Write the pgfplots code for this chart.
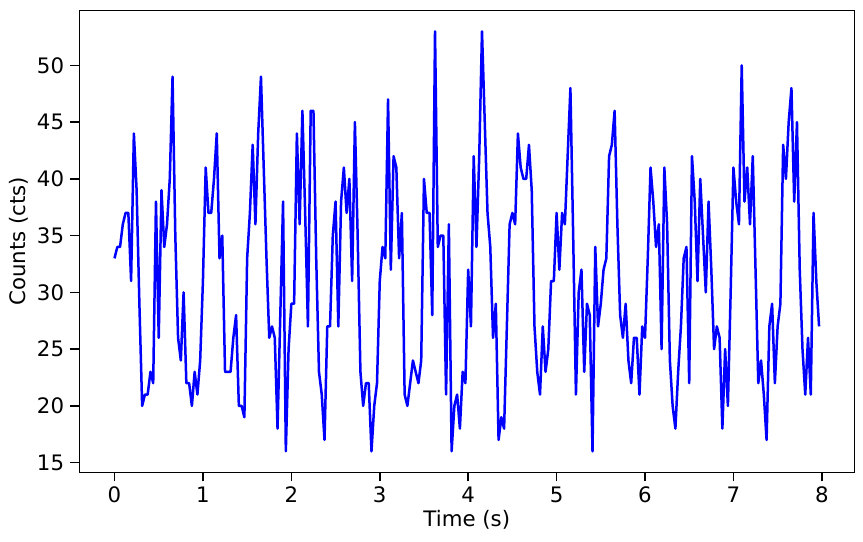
\documentclass[border=0pt]{standalone}
\usepackage{fontspec}
\setmainfont{DejaVu Sans}
\usepackage{pgfplots}
\usepackage{pgfplotstable}
\pgfplotsset{compat=1.18}

% Binned light curve: 256 bins of 1/32 s
\pgfplotstableread{
t c
0 33
0.03125 34
0.0625 34
0.09375 36
0.125 37
0.15625 37
0.1875 31
0.21875 44
0.25 39
0.28125 29
0.3125 20
0.34375 21
0.375 21
0.40625 23
0.4375 22
0.46875 38
0.5 26
0.53125 39
0.5625 34
0.59375 36
0.625 40
0.65625 49
0.6875 35
0.71875 26
0.75 24
0.78125 30
0.8125 22
0.84375 22
0.875 20
0.90625 23
0.9375 21
0.96875 24
1 31
1.03125 41
1.0625 37
1.09375 37
1.125 40
1.15625 44
1.1875 33
1.21875 35
1.25 23
1.28125 23
1.3125 23
1.34375 26
1.375 28
1.40625 20
1.4375 20
1.46875 19
1.5 33
1.53125 37
1.5625 43
1.59375 36
1.625 44
1.65625 49
1.6875 41
1.71875 33
1.75 26
1.78125 27
1.8125 26
1.84375 18
1.875 28
1.90625 38
1.9375 16
1.96875 25
2 29
2.03125 29
2.0625 44
2.09375 36
2.125 46
2.15625 37
2.1875 27
2.21875 46
2.25 46
2.28125 33
2.3125 23
2.34375 21
2.375 17
2.40625 27
2.4375 27
2.46875 35
2.5 38
2.53125 27
2.5625 38
2.59375 41
2.625 37
2.65625 40
2.6875 31
2.71875 45
2.75 35
2.78125 23
2.8125 20
2.84375 22
2.875 22
2.90625 16
2.9375 20
2.96875 22
3 31
3.03125 34
3.0625 33
3.09375 47
3.125 32
3.15625 42
3.1875 41
3.21875 33
3.25 37
3.28125 21
3.3125 20
3.34375 22
3.375 24
3.40625 23
3.4375 22
3.46875 24
3.5 40
3.53125 37
3.5625 37
3.59375 28
3.625 53
3.65625 34
3.6875 35
3.71875 35
3.75 21
3.78125 36
3.8125 16
3.84375 20
3.875 21
3.90625 18
3.9375 23
3.96875 22
4 32
4.03125 27
4.0625 42
4.09375 34
4.125 42
4.15625 53
4.1875 45
4.21875 37
4.25 34
4.28125 26
4.3125 29
4.34375 17
4.375 19
4.40625 18
4.4375 27
4.46875 36
4.5 37
4.53125 36
4.5625 44
4.59375 41
4.625 40
4.65625 40
4.6875 43
4.71875 39
4.75 27
4.78125 23
4.8125 21
4.84375 27
4.875 23
4.90625 25
4.9375 31
4.96875 31
5 37
5.03125 32
5.0625 37
5.09375 36
5.125 42
5.15625 48
5.1875 35
5.21875 21
5.25 30
5.28125 32
5.3125 23
5.34375 29
5.375 28
5.40625 16
5.4375 34
5.46875 27
5.5 29
5.53125 32
5.5625 33
5.59375 42
5.625 43
5.65625 46
5.6875 36
5.71875 28
5.75 26
5.78125 29
5.8125 24
5.84375 22
5.875 26
5.90625 26
5.9375 21
5.96875 27
6 26
6.03125 33
6.0625 41
6.09375 38
6.125 34
6.15625 36
6.1875 25
6.21875 41
6.25 36
6.28125 24
6.3125 20
6.34375 18
6.375 23
6.40625 27
6.4375 33
6.46875 34
6.5 22
6.53125 42
6.5625 38
6.59375 31
6.625 40
6.65625 35
6.6875 30
6.71875 38
6.75 32
6.78125 25
6.8125 27
6.84375 26
6.875 18
6.90625 25
6.9375 20
6.96875 30
7 41
7.03125 38
7.0625 36
7.09375 50
7.125 38
7.15625 41
7.1875 36
7.21875 42
7.25 32
7.28125 22
7.3125 24
7.34375 21
7.375 17
7.40625 27
7.4375 29
7.46875 22
7.5 27
7.53125 29
7.5625 43
7.59375 40
7.625 45
7.65625 48
7.6875 38
7.71875 45
7.75 32
7.78125 25
7.8125 21
7.84375 26
7.875 21
7.90625 37
7.9375 31
7.96875 27
}\lightcurve

\definecolor{curveblue}{RGB}{0,0,255}

\begin{document}
\begin{tikzpicture}
\begin{axis}[
  scale only axis,
  width=775bp, height=462bp,
  xmin=-0.3984, xmax=8.3672,
  ymin=14.15, ymax=54.85,
  xtick={0,1,2,3,4,5,6,7,8},
  ytick={15,20,25,30,35,40,45,50},
  tick align=outside,
  tick pos=left,
  major tick length=9bp,
  every tick/.style={black, line width=1.6bp},
  axis line style={black, line width=1bp},
  /pgf/number format/assume math mode=true,
  ticklabel style={font=\fontsize{21.3bp}{25bp}\selectfont},
  xticklabel style={inner sep=0pt, yshift=-5bp},
  yticklabel style={inner sep=0pt, xshift=-6bp},
  xlabel={Time (s)},
  ylabel={Counts (cts)},
  label style={font=\fontsize{21.3bp}{25bp}\selectfont},
  xlabel style={at={(rel axis cs:0.5,0)}, anchor=base, yshift=-54.4bp, inner sep=0pt},
  ylabel style={at={(rel axis cs:0,0.5)}, rotate=0, anchor=base, yshift=54bp, inner sep=0pt},
]
\addplot[curveblue, line width=2.5bp, line join=round, mark=none] table[x=t, y=c] {\lightcurve};
\coordinate (bl) at (rel axis cs:0,0);
\end{axis}
\pgfresetboundingbox
\path (bl) ++(-79.3bp,-69.7bp) rectangle ++(863bp,542bp);
\end{tikzpicture}
\end{document}
